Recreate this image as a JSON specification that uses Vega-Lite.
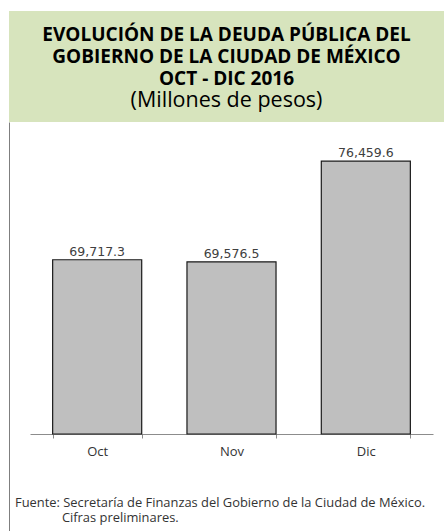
{
  "$schema": "https://vega.github.io/schema/vega-lite/v6.json",
  "background": "white",
  "padding": {"left": 9, "top": 11, "right": 0, "bottom": 0},
  "spacing": 0,
  "config": {"view": {"stroke": null}, "concat": {"spacing": 0}},
  "vconcat": [
    {
      "width": 435,
      "height": 111,
      "view": {"fill": "#d7e4bd", "stroke": null},
      "layer": [
        {
          "data": {"values": [
            {"line": "1", "text": "EVOLUCIÓN DE LA DEUDA PÚBLICA DEL"},
            {"line": "2", "text": "GOBIERNO DE LA CIUDAD DE MÉXICO"},
            {"line": "3", "text": "OCT - DIC 2016"}
          ]},
          "mark": {"type": "text", "font": "Open Sans", "fontWeight": "bold", "fontSize": 19, "color": "#000000", "baseline": "alphabetic"},
          "encoding": {
            "y": {"field": "line", "type": "ordinal", "scale": {"type": "point", "domain": ["1", "2", "3", "4"], "padding": 1.421, "align": 0.6667}, "axis": null},
            "text": {"field": "text"}
          }
        },
        {
          "data": {"values": [{"line": "4", "text": "(Millones de pesos)"}]},
          "mark": {"type": "text", "font": "Open Sans", "fontWeight": "normal", "fontSize": 21.5, "color": "#000000", "baseline": "alphabetic"},
          "encoding": {
            "y": {"field": "line", "type": "ordinal", "axis": null},
            "text": {"field": "text"}
          }
        }
      ]
    },
    {
      "width": 435,
      "height": 409,
      "data": {"values": [
        {"mes": "Oct", "deuda": 69717.3},
        {"mes": "Nov", "deuda": 69576.5},
        {"mes": "Dic", "deuda": 76459.6}
      ]},
      "title": {
        "text": ["Fuente: Secretaría de Finanzas del Gobierno de la Ciudad de México.", "\u200b\u00a0\u00a0\u00a0\u00a0\u00a0\u00a0\u00a0\u00a0\u00a0\u00a0\u00a0\u00a0\u00a0\u00a0Cifras preliminares."],
        "orient": "bottom",
        "anchor": "start",
        "frame": "group",
        "offset": -34,
        "dx": 6,
        "font": "Open Sans",
        "fontSize": 12.9,
        "fontWeight": "normal",
        "color": "#333333",
        "lineHeight": 14.5
      },
      "encoding": {
        "x": {
          "field": "mes",
          "type": "nominal",
          "sort": ["Oct", "Nov", "Dic"],
          "scale": {"range": [21, 424], "paddingInner": 0.337, "paddingOuter": 0.1686},
          "axis": {
            "title": null,
            "labelAngle": 0,
            "offset": -97,
            "tickBand": "extent",
            "domainColor": "#8c8c8c",
            "tickColor": "#8c8c8c",
            "tickSize": 4,
            "labelFont": "Open Sans",
            "labelFontSize": 13,
            "labelColor": "#333333",
            "labelPadding": 7,
            "grid": false
          }
        },
        "y": {
          "field": "deuda",
          "type": "quantitative",
          "scale": {"domain": [51165, 79141], "zero": false, "nice": false},
          "axis": {"title": null, "labels": false, "ticks": false, "grid": false, "domain": true, "domainColor": "#7f7f7f", "domainWidth": 1}
        }
      },
      "layer": [
        {
          "mark": {"type": "bar", "fill": "#bfbfbf", "stroke": "#1a1a1a", "strokeWidth": 1.2},
          "encoding": {"y2": {"datum": 57800}}
        },
        {
          "mark": {"type": "text", "font": "DejaVu Sans", "fontSize": 12.5, "color": "#404040", "baseline": "alphabetic", "dy": -4},
          "encoding": {"text": {"field": "deuda", "type": "quantitative", "format": ",.1f"}}
        }
      ]
    }
  ]
}
